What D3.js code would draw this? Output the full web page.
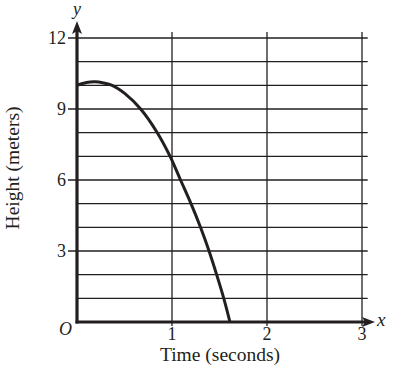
<!DOCTYPE html>
<html>
<head>
<meta charset="utf-8">
<script src="https://cdn.jsdelivr.net/npm/d3@7"></script>
<style>
  body { margin: 0; background: #fff; }
  text { font-family: "Liberation Serif", "DejaVu Serif", serif; fill: #231f20; }
</style>
</head>
<body>
<div id="chart"></div>
<script>
/* chart dimensions */
let width = 401;
let height = 380;
let margin = {top: 38, bottom: 58, left: 77, right: 39};

/* values */
let xTicks = [1, 2, 3];
let yTicks = [3, 6, 9, 12];
let yGrid = [1, 2, 3, 4, 5, 6, 7, 8, 9, 10, 11, 12];
let times   = [0, 0.1, 0.19, 0.28, 0.37, 0.505, 0.67, 0.845, 0.98, 1.09, 1.2, 1.3, 1.39, 1.47, 1.545, 1.61];
let heights = [10, 10.12, 10.15, 10.1, 10, 9.65, 9, 8, 7, 6, 5, 4, 3, 2, 1, 0];

let ink = "#231f20";

let svg = d3.select("#chart")
            .append("svg")
              .attr("width", width)
              .attr("height", height);

let xScale = d3.scaleLinear()
               .domain([0, 3])
               .range([margin.left, width - margin.right]);

let yScale = d3.scaleLinear()
               .domain([0, 12])
               .range([height - margin.bottom, margin.top]);

let x0 = xScale(0), y0 = yScale(0);
let gridRight = xScale(3.06);
let gridTop = yScale(12.25);

// horizontal grid lines (with short tick to the left of the axis at labelled values)
svg.append("g")
   .selectAll("line")
   .data(yGrid)
   .enter()
   .append("line")
     .attr("x1", d => yTicks.includes(d) ? x0 - 9 : x0)
     .attr("x2", gridRight)
     .attr("y1", d => yScale(d))
     .attr("y2", d => yScale(d))
     .attr("stroke", ink)
     .attr("stroke-width", 1.3);

// vertical grid lines
svg.append("g")
   .selectAll("line")
   .data(xTicks)
   .enter()
   .append("line")
     .attr("x1", d => xScale(d))
     .attr("x2", d => xScale(d))
     .attr("y1", y0 + 4)
     .attr("y2", gridTop)
     .attr("stroke", ink)
     .attr("stroke-width", 1.3);

// axes
let xArrowTip = 375;
let yArrowTip = 21;

svg.append("line")
   .attr("x1", x0 - 1.5).attr("x2", xArrowTip - 10)
   .attr("y1", y0).attr("y2", y0)
   .attr("stroke", ink).attr("stroke-width", 3.2);

svg.append("line")
   .attr("x1", x0).attr("x2", x0)
   .attr("y1", y0 + 1.5).attr("y2", yArrowTip + 10)
   .attr("stroke", ink).attr("stroke-width", 3.2);

// arrow heads
svg.append("path")
   .attr("d", `M${xArrowTip},${y0} L${xArrowTip - 13},${y0 - 5} L${xArrowTip - 10},${y0} L${xArrowTip - 13},${y0 + 5} Z`)
   .attr("fill", ink);

svg.append("path")
   .attr("d", `M${x0},${yArrowTip} L${x0 - 5},${yArrowTip + 13} L${x0},${yArrowTip + 10} L${x0 + 5},${yArrowTip + 13} Z`)
   .attr("fill", ink);

// tick labels
svg.append("g")
   .selectAll("text")
   .data(xTicks)
   .enter()
   .append("text")
     .attr("x", d => xScale(d))
     .attr("y", y0 + 18)
     .attr("text-anchor", "middle")
     .attr("font-size", 18)
     .text(d => d);

svg.append("g")
   .selectAll("text")
   .data(yTicks)
   .enter()
   .append("text")
     .attr("x", x0 - 11)
     .attr("y", d => yScale(d) + 6)
     .attr("text-anchor", "end")
     .attr("font-size", 18)
     .text(d => d);

svg.append("text")
   .attr("x", x0 - 5)
   .attr("y", y0 + 13)
   .attr("text-anchor", "end")
   .attr("font-size", 18)
   .attr("font-style", "italic")
   .text("O");

svg.append("text")
   .attr("x", x0)
   .attr("y", 15)
   .attr("text-anchor", "middle")
   .attr("font-size", 18)
   .attr("font-style", "italic")
   .text("y");

svg.append("text")
   .attr("x", xArrowTip + 2)
   .attr("y", y0 + 4)
   .attr("font-size", 19)
   .attr("font-style", "italic")
   .text("x");

// axis titles
svg.append("text")
   .attr("x", 220)
   .attr("y", y0 + 39)
   .attr("text-anchor", "middle")
   .attr("font-size", 19.5)
   .text("Time (seconds)");

svg.append("text")
   .attr("transform", `translate(19, 168) rotate(-90)`)
   .attr("text-anchor", "middle")
   .attr("font-size", 19.5)
   .text("Height (meters)");

// the curve
let points = times.map((t, i) => [t, heights[i]]);

let line = d3.line()
             .x(d => xScale(d[0]))
             .y(d => yScale(d[1]))
             .curve(d3.curveCatmullRom.alpha(0.5));

svg.append("path")
   .datum(points)
   .attr("d", line)
   .attr("fill", "none")
   .attr("stroke", ink)
   .attr("stroke-width", 3);
</script>
</body>
</html>
